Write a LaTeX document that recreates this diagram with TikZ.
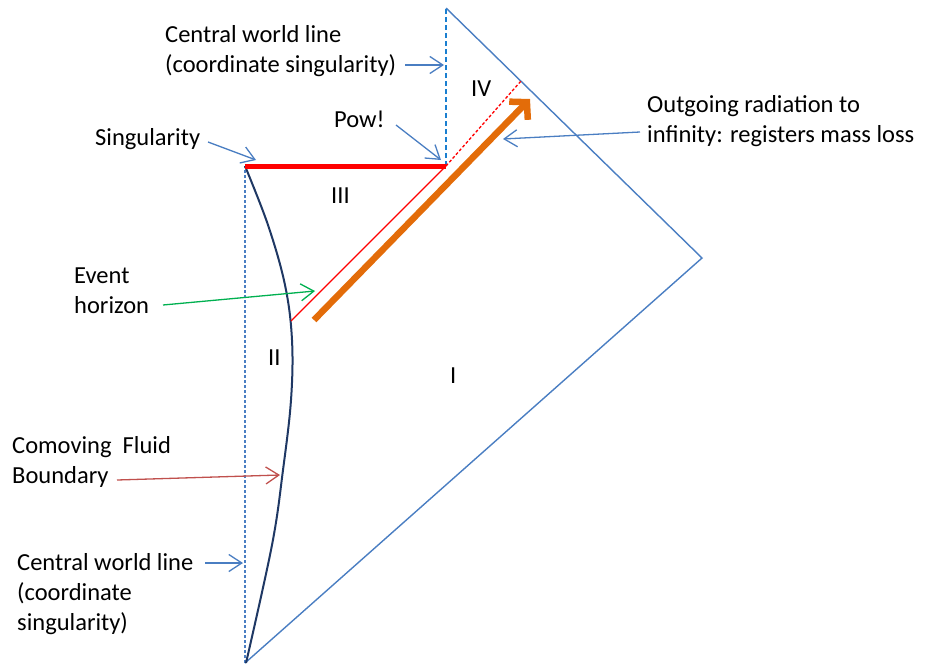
\documentclass[tikz,border=0pt]{standalone}
\usepackage{fontspec}
\setmainfont{Carlito}
\usetikzlibrary{arrows.meta}
\definecolor{lblue}{HTML}{4A7EC2}
\definecolor{dblue}{HTML}{1A7FD0}
\definecolor{navy}{HTML}{1F3864}
\definecolor{orng}{HTML}{E36C09}
\definecolor{grn}{HTML}{00B050}
\definecolor{dred}{HTML}{C0504D}
\tikzset{
  lbl/.style={font=\fontsize{24.5}{30}\selectfont, inner sep=0pt, anchor=base west, align=left},
  ptr/.style={line width=1.3pt, -{Straight Barb[length=13pt,width=17pt,line width=1.3pt]}},
}
\begin{document}
\begin{tikzpicture}[x=1pt,y=-1pt]
\useasboundingbox (0,0) rectangle (934,667);
% key points
\coordinate (B) at (245,663);
\coordinate (S) at (245,166);
\coordinate (P) at (446,166);
\coordinate (T) at (446,8);
\coordinate (R) at (702,258);
\coordinate (EH0) at (291,321);
\coordinate (EH1) at (521,81);
\coordinate (O0) at (314,320);
\coordinate (O1) at (530,99);
% triangle
\draw[lblue, line width=1.4pt, line join=miter] (T) -- (R) -- (B);
% dashed world lines
\draw[lblue, line width=1.5pt, dash pattern=on 3pt off 2pt] (B) -- (S);
\draw[dblue, line width=2.2pt, dash pattern=on 5pt off 3pt] (P) -- (T);
% fluid boundary
\draw[navy, line width=2pt] plot[smooth, tension=0.6] coordinates {(245,166) (268,225) (285,285) (292,340) (291,400) (283,470) (272,545) (246,663)};
% singularity
\draw[red, line width=5pt] (S) -- (P);
% event horizon
\draw[red, line width=1.3pt] (EH0) -- (P);
\draw[red, line width=1.3pt, dash pattern=on 3pt off 2pt] (P) -- (EH1);
% outgoing radiation
\draw[orng, line width=6.5pt, -{Straight Barb[length=12pt,width=26pt,line width=6.5pt]}] (O0) -- (O1);
% labels
\node[lbl] (cwl1) at (165,72) {Central world line\\(coordinate singularity)};
\node[lbl] (iv) at (471,96) {IV};
\node[lbl] (pow) at (334,127) {Pow!};
\node[lbl] (sing) at (95,145) {Singularity};
\node[lbl] (out) at (647,142) {Outgoing radiation to\\infinity: registers mass loss};
\node[lbl] (iii) at (331,203) {III};
\node[lbl] (eh) at (74,313) {Event\\horizon};
\node[lbl] (ii) at (268,365) {II};
\node[lbl] (i) at (450,383) {I};
\node[lbl] (cfb) at (12,483) {Comoving\ \ Fluid\\Boundary};
\node[lbl] (cwl2) at (17,630) {Central world line\\(coordinate\\singularity)};
% pointer coordinates
\coordinate (a1s) at (405,65); \coordinate (a1e) at (444,65);
\coordinate (a2s) at (396,125); \coordinate (a2e) at (441,160);
\coordinate (a3s) at (208,142); \coordinate (a3e) at (256,160);
\coordinate (a4s) at (640,132); \coordinate (a4e) at (503,139);
\coordinate (a5s) at (163,305); \coordinate (a5e) at (315,291);
\coordinate (a6s) at (117,480); \coordinate (a6e) at (280,475);
\coordinate (a7s) at (205,563); \coordinate (a7e) at (243,563);
\draw[ptr, lblue] (a1s) -- (a1e);
\draw[ptr, lblue] (a2s) -- (a2e);
\draw[ptr, lblue] (a3s) -- (a3e);
\draw[ptr, lblue] (a4s) -- (a4e);
\draw[ptr, grn] (a5s) -- (a5e);
\draw[ptr, dred] (a6s) -- (a6e);
\draw[ptr, lblue] (a7s) -- (a7e);
\end{tikzpicture}
\end{document}
